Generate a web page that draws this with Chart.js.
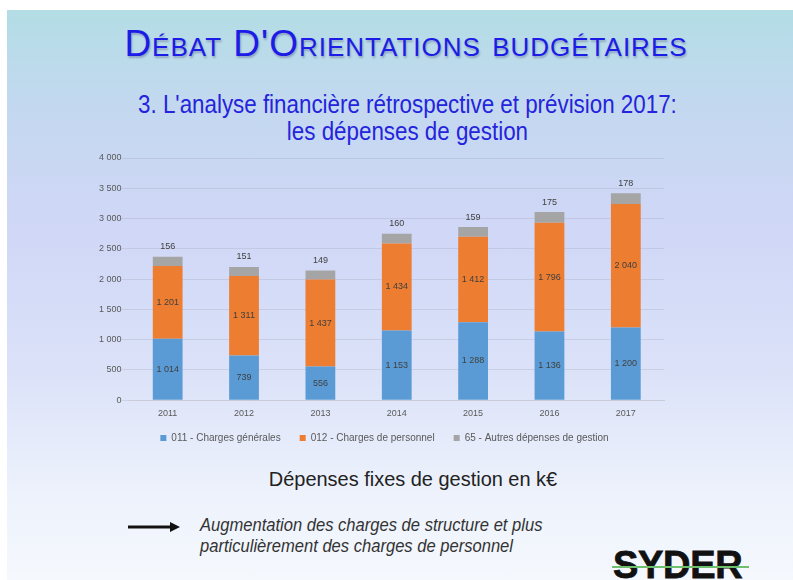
<!DOCTYPE html>
<html>
<head>
<meta charset="utf-8">
<title>Débat d'Orientations budgétaires</title>
<script src="https://cdn.jsdelivr.net/npm/chart.js"></script>
<style>
  html, body { margin: 0; padding: 0; background: #fff; }
  body { width: 793px; height: 580px; position: relative; overflow: hidden; font-family: "Liberation Sans", Arial, sans-serif; }
  .slide {
    position: absolute; left: 7px; top: 10px; right: 0; bottom: 0;
    background: linear-gradient(to bottom, #b3dde5 0%, #c4d8f0 18%, #d0d7f7 38%, #dae1f8 62%, #edf2fc 85%, #f5f8fd 100%);
  }
  .title {
    position: absolute; left: 0; top: 23px; width: 812px; text-align: center;
    font-size: 37px; font-variant: small-caps; color: #1c1ce6; letter-spacing: 1px;
    text-shadow: 1px 2px 2px rgba(60, 60, 120, 0.35);
  }
  .subtitle {
    position: absolute; left: 0; top: 91px; width: 815px; text-align: center;
    font-size: 26px; line-height: 27px; color: #2424dc;
    transform: scaleX(0.86); transform-origin: 407px 0;
  }
  #wrap { position: absolute; left: 80px; top: 145px; width: 600px; height: 308px; }
  .caption {
    position: absolute; left: 0; top: 467px; width: 826px; text-align: center;
    font-size: 21px; color: #222; transform: scaleX(0.95); transform-origin: 413px 0;
  }
  .note {
    position: absolute; left: 200px; top: 515px;
    font-style: italic; font-size: 18px; line-height: 21px; color: #333;
    transform: scaleX(0.92); transform-origin: 0 0;
  }
  .arrow { position: absolute; left: 126px; top: 520px; }
  .logo {
    position: absolute; left: 613px; top: 544px;
    font-weight: bold; font-size: 38px; color: #111; letter-spacing: -0.3px;
    -webkit-text-stroke: 0.8px #111;
  }
  .logo-line { position: absolute; left: 612px; top: 566px; width: 137px; height: 2px; background: #6fbf6f; }
</style>
</head>
<body>
<div class="slide"></div>
<div class="title">Débat D'Orientations budgétaires</div>
<div class="subtitle">3. L'analyse financière rétrospective et prévision 2017:<br>les dépenses de gestion</div>
<div id="wrap"><canvas id="chart"></canvas></div>
<div class="caption">Dépenses fixes de gestion en k€</div>
<svg class="arrow" width="56" height="14">
  <line x1="2" y1="7" x2="46" y2="7" stroke="#111" stroke-width="3"/>
  <polygon points="44,2 54,7 44,12" fill="#111"/>
</svg>
<div class="note">Augmentation des charges de structure et plus<br>particulièrement des charges de personnel</div>
<div class="logo">SYDER</div>
<div class="logo-line"></div>

<script>
const years = ['2011', '2012', '2013', '2014', '2015', '2016', '2017'];
const chargesGenerales = [1014, 739, 556, 1153, 1288, 1136, 1200];
const chargesPersonnel = [1201, 1311, 1437, 1434, 1412, 1796, 2040];
const autresDepenses = [156, 151, 149, 160, 159, 175, 178];
const seriesNames = ['011 - Charges générales', '012 - Charges de personnel', '65 - Autres dépenses de gestion'];

const tickFont = { size: 9, family: '"Liberation Sans", Arial, sans-serif' };

function fmt(v) {
    return String(v).replace(/\B(?=(\d{3})+(?!\d))/g, ' ');
}

// numbers inside the blue/orange segments, label above the grey one
const valueLabels = {
    id: 'valueLabels',
    afterLayout(chart) {
        // legend sits a bit right of the canvas centre in the original
        chart.legend.left += 15;
        chart.legend.right += 15;
    },
    afterDatasetsDraw(chart) {
        const ctx = chart.ctx;
        ctx.save();
        ctx.font = '9px "Liberation Sans", Arial, sans-serif';
        ctx.fillStyle = '#404040';
        ctx.textAlign = 'center';
        ctx.textBaseline = 'middle';
        chart.data.datasets.forEach((ds, i) => {
            chart.getDatasetMeta(i).data.forEach((bar, j) => {
                const y = i < 2 ? (bar.y + bar.base) / 2 : bar.y - 10;
                ctx.fillText(fmt(ds.data[j]), bar.x, y);
            });
        });
        ctx.restore();
    }
};

new Chart(document.getElementById('chart'), {
    type: 'bar',
    data: {
        labels: years,
        datasets: [
            { label: seriesNames[0], data: chargesGenerales, backgroundColor: '#5b9bd5' },
            { label: seriesNames[1], data: chargesPersonnel, backgroundColor: '#ed7d31' },
            { label: seriesNames[2], data: autresDepenses, backgroundColor: '#a5a5a5' }
        ]
    },
    options: {
        responsive: true,
        maintainAspectRatio: false,
        animation: false,
        layout: { padding: { top: 13, right: 16, bottom: 0, left: 0 } },
        datasets: { bar: { barPercentage: 0.39, categoryPercentage: 1 } },
        scales: {
            x: {
                stacked: true,
                grid: { display: false },
                border: { color: '#c9cbd6' },
                ticks: { color: '#595959', font: tickFont, padding: 0 }
            },
            y: {
                stacked: true,
                min: 0, max: 4000,
                afterFit(scale) { scale.width = 49.5; },
                grid: { color: 'rgba(140,140,160,0.22)' },
                border: { display: false },
                ticks: { stepSize: 500, padding: 0, color: '#595959', font: tickFont, callback: v => fmt(v) }
            }
        },
        plugins: {
            legend: {
                position: 'bottom',
                labels: {
                    boxWidth: 6, boxHeight: 6, padding: 14, color: '#595959',
                    font: { size: 10, family: '"Liberation Sans", Arial, sans-serif' },
                    generateLabels(chart) {
                        return Chart.defaults.plugins.legend.labels.generateLabels(chart)
                            .map(item => Object.assign(item, { text: item.text + '\u2002' }));
                    }
                }
            },
            tooltip: { enabled: false }
        }
    },
    plugins: [valueLabels]
});
</script>
</body>
</html>
